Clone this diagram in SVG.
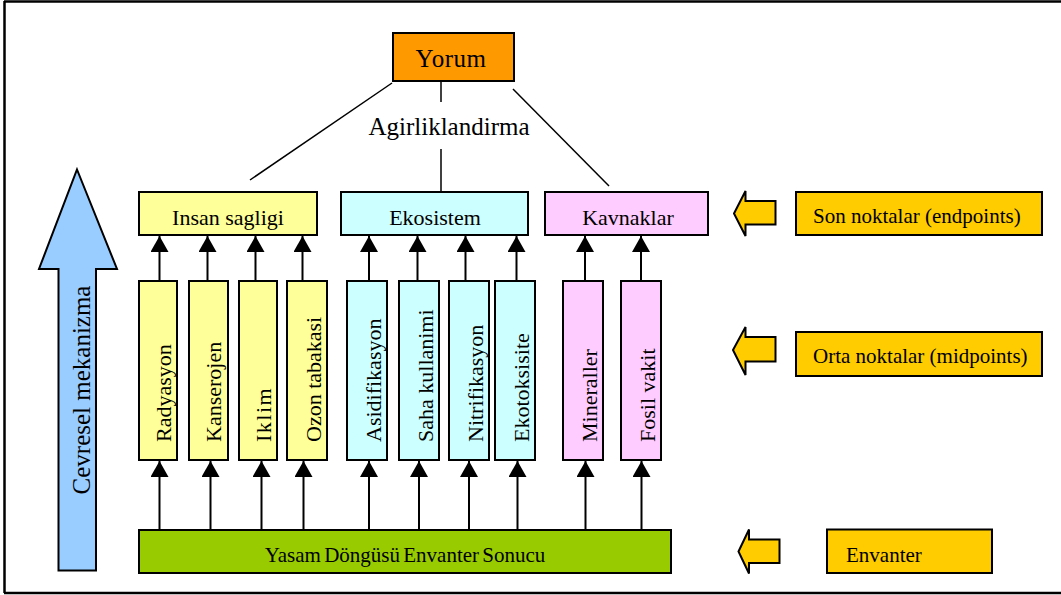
<svg xmlns="http://www.w3.org/2000/svg" width="1061" height="595" viewBox="0 0 1061 595">
<defs>
<style>
text{font-family:"Liberation Serif","Times New Roman",serif;fill:#000}
.box{stroke:#000;stroke-width:2}
.y{fill:#FFFF99}.c{fill:#CCFFFF}.p{fill:#FFCCFF}.g{fill:#FFCC00}.o{fill:#FF9900}.gr{fill:#99CC00}
.t22{font-size:22px}.t21{font-size:21px}.t25{font-size:25px}
.line{stroke:#000;stroke-width:1.5;fill:none}
.arr{stroke:#000;stroke-width:2;fill:none;marker-end:url(#ah)}
.blk{fill:#FFCC00;stroke:#000;stroke-width:2;stroke-linejoin:miter}
</style>
<marker id="ah" viewBox="0 0 10 10" refX="10" refY="5" markerWidth="8" markerHeight="8" markerUnits="userSpaceOnUse" orient="auto">
<path d="M0,0 L10,5 L0,10 z" fill="#000"/>
</marker>
<marker id="ah2" viewBox="0 0 16 18" refX="16" refY="9" markerWidth="19" markerHeight="18" markerUnits="userSpaceOnUse" orient="auto">
<path d="M0,0 L16,9 L0,18 z" fill="#000"/>
</marker>
</defs>
<rect width="1061" height="595" fill="#fff"/>
<g id="frame">
<path d="M4,1.5 H1061 M4.5,1 V593 M4,593 H1061" stroke="#000" stroke-width="2.5" fill="none"/>
</g>
<g id="connectors">
<line class="line" x1="392" y1="83" x2="250" y2="180"/>
<line class="line" x1="441" y1="77" x2="441" y2="102"/>
<line class="line" x1="441" y1="149" x2="441" y2="192"/>
<line class="line" x1="513" y1="89" x2="609" y2="186"/>
<g stroke="#000" stroke-width="2" fill="none" marker-end="url(#ah2)">
<line x1="159.5" y1="281" x2="159.5" y2="236"/>
<line x1="207.5" y1="281" x2="207.5" y2="236"/>
<line x1="255.5" y1="281" x2="255.5" y2="236"/>
<line x1="302.5" y1="281" x2="302.5" y2="236"/>
<line x1="369" y1="281" x2="369" y2="236"/>
<line x1="417.5" y1="281" x2="417.5" y2="236"/>
<line x1="465.5" y1="281" x2="465.5" y2="236"/>
<line x1="516.5" y1="281" x2="516.5" y2="236"/>
<line x1="585" y1="281" x2="585" y2="236"/>
<line x1="641" y1="281" x2="641" y2="236"/>
<line x1="159.5" y1="530" x2="159.5" y2="461"/>
<line x1="210.5" y1="530" x2="210.5" y2="461"/>
<line x1="261.5" y1="530" x2="261.5" y2="461"/>
<line x1="303.5" y1="530" x2="303.5" y2="461"/>
<line x1="369" y1="530" x2="369" y2="461"/>
<line x1="419" y1="530" x2="419" y2="461"/>
<line x1="469" y1="530" x2="469" y2="461"/>
<line x1="517.5" y1="530" x2="517.5" y2="461"/>
<line x1="585.5" y1="530" x2="585.5" y2="461"/>
<line x1="641.5" y1="530" x2="641.5" y2="461"/>
</g>
</g>
<g id="yorum">
<rect class="box o" x="393" y="33" width="121" height="48"/>
<text class="t25" x="451" y="67" text-anchor="middle" letter-spacing="0.5">Yorum</text>
</g>
<g id="agirliklandirma">
<text class="t25" x="449" y="135" text-anchor="middle">Agirliklandirma</text>
</g>
<g id="cevresel">
<path d="M77,169.5 L117,269 L96,269 L96,570.5 L58.5,570.5 L58.5,269 L39,269 Z" fill="#99CCFF" stroke="#000" stroke-width="2" stroke-linejoin="miter"/>
<text class="t25" font-size="26" transform="translate(89.5,390) rotate(-90)" text-anchor="middle">Cevresel mekanizma</text>
</g>
<g id="insan">
<rect class="box y" x="139" y="192" width="178" height="43"/>
<text class="t22" x="228" y="225" text-anchor="middle">Insan sagligi</text>
</g>
<g id="ekosistem">
<rect class="box c" x="341" y="192" width="187" height="43"/>
<text class="t22" x="435" y="225" text-anchor="middle">Ekosistem</text>
</g>
<g id="kavnaklar">
<rect class="box p" x="545" y="192" width="163" height="43"/>
<text class="t22" x="628" y="225" text-anchor="middle">Kavnaklar</text>
</g>
<g id="radyasyon">
<rect class="box y" x="139" y="281" width="38" height="179"/>
<text class="t22" transform="translate(171,442) rotate(-90)">Radyasyon</text>
</g>
<g id="kanserojen">
<rect class="box y" x="189" y="281" width="39" height="179"/>
<text class="t22" transform="translate(220.5,442) rotate(-90)">Kanserojen</text>
</g>
<g id="iklim">
<rect class="box y" x="239" y="281" width="38" height="179"/>
<text class="t22" transform="translate(271,442) rotate(-90)" letter-spacing="1.5">Iklim</text>
</g>
<g id="ozon">
<rect class="box y" x="287" y="281" width="40" height="179"/>
<text class="t22" transform="translate(320.5,442) rotate(-90)">Ozon tabakasi</text>
</g>
<g id="asidifikasyon">
<rect class="box c" x="347" y="281" width="40" height="179"/>
<text class="t22" transform="translate(381,442) rotate(-90)">Asidifikasyon</text>
</g>
<g id="saha">
<rect class="box c" x="399" y="281" width="40" height="179"/>
<text class="t22" transform="translate(432.5,442) rotate(-90)">Saha kullanimi</text>
</g>
<g id="nitrifikasyon">
<rect class="box c" x="449" y="281" width="40" height="179"/>
<text class="t22" transform="translate(483,442) rotate(-90)">Nitrifikasyon</text>
</g>
<g id="ekotoksisite">
<rect class="box c" x="495" y="281" width="40" height="179"/>
<text class="t22" transform="translate(529,442) rotate(-90)">Ekotoksisite</text>
</g>
<g id="mineraller">
<rect class="box p" x="563" y="281" width="40" height="179"/>
<text class="t22" transform="translate(597,442) rotate(-90)">Mineraller</text>
</g>
<g id="fosil">
<rect class="box p" x="621" y="281" width="40" height="179"/>
<text class="t22" transform="translate(654.5,442) rotate(-90)">Fosil vakit</text>
</g>
<g id="envanter-sonucu">
<rect class="box gr" x="139" y="530" width="532" height="43"/>
<text class="t21" x="405" y="562" text-anchor="middle" word-spacing="-2">Yasam Döngüsü Envanter Sonucu</text>
</g>
<g id="arrow-son">
<path class="blk" d="M734,213.5 L745.5,191 L745.5,201 L775.5,201 L775.5,224.5 L745.5,224.5 L745.5,236 Z"/>
</g>
<g id="arrow-orta">
<path class="blk" d="M733,350 L745.5,327 L745.5,337 L775.5,337 L775.5,361.5 L745.5,361.5 L745.5,375 Z"/>
</g>
<g id="arrow-envanter">
<path class="blk" d="M738.5,551.5 L749,529.5 L749,539.5 L779.5,539.5 L779.5,563 L749,563 L749,573.5 Z"/>
</g>
<g id="son-noktalar">
<rect class="box g" x="796" y="192" width="246" height="43"/>
<text class="t21" x="813" y="223">Son noktalar (endpoints)</text>
</g>
<g id="orta-noktalar">
<rect class="box g" x="796" y="332" width="246" height="44"/>
<text class="t21" x="813" y="363">Orta noktalar (midpoints)</text>
</g>
<g id="envanter">
<rect class="box g" x="827" y="529.5" width="165" height="43.5"/>
<text class="t21" x="846" y="561.5">Envanter</text>
</g>
</svg>
